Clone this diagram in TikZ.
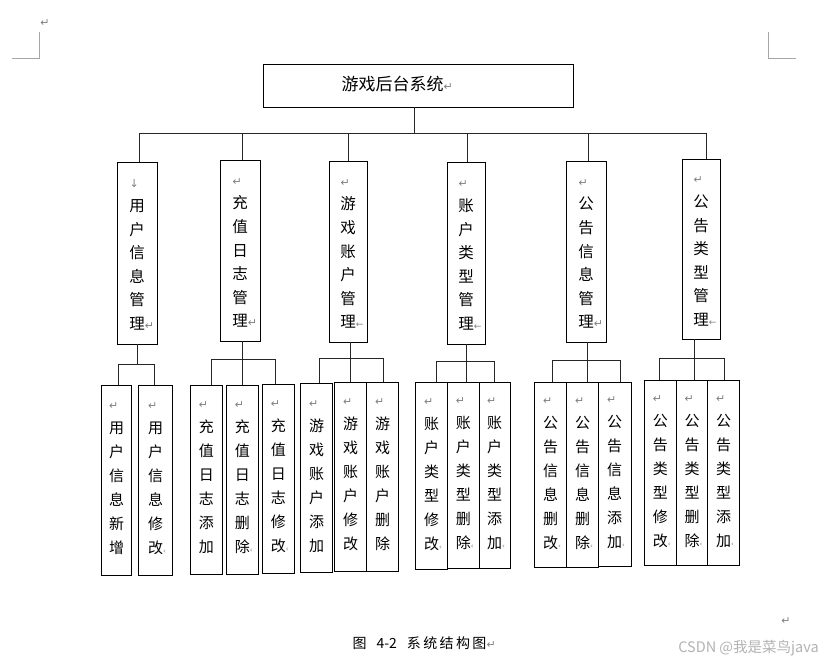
\documentclass[tikz,border=0pt]{standalone}
\usepackage{fontspec}
\setmainfont{Noto Sans CJK SC}
\newfontfamily\dv{DejaVu Sans}
\newcommand\rt{{\dv\color{gray}\fontsize{11}{11}\selectfont ↵}}
\newcommand\ra{\makebox[15pt][l]{\rt}\vphantom{用}}
\newcommand\rar{\makebox[15pt][l]{{\dv\color{gray}\fontsize{11}{11}\selectfont ↓}}\vphantom{用}}
\newcommand\ert{\rlap{\rt}}
\newcommand\ela{\rlap{{\dv\color{gray}\fontsize{9}{9}\selectfont ←}}}
\newcommand\ecl{\rlap{{\dv\color{gray}\fontsize{7}{7}\selectfont ‹}}}
\newcommand\dn{\rule[-9pt]{0pt}{9pt}}
\tikzset{
  box/.style={draw, line width=0.8pt, inner sep=0pt, align=center, font=\fontsize{15.5}{23.6}\selectfont},
  lbox/.style={box, font=\fontsize{15}{24}\selectfont},
  conn/.style={draw, line width=0.8pt, black!85},
  corner/.style={draw, line width=0.6pt, gray!70}
}
% box from corners: [style]{name}{x1}{y1}{x2}{y2}{text}
\newcommand\bx[7][box]{%
  \pgfmathsetmacro\bxw{#5-#3}\pgfmathsetmacro\bxh{#6-#4}%
  \node[#1, minimum width=\bxw pt, minimum height=\bxh pt] (#2) at ({(#3+#5)/2},{(#4+#6)/2}) {#7};}
\begin{document}
\begin{tikzpicture}[x=1pt,y=-1pt]
\useasboundingbox (0,0) rectangle (833,663);
% page corner marks
\draw[corner] (11.7,58) -- (39,58) -- (39,31.7);
\draw[corner] (768.5,31.7) -- (768.5,58) -- (795.7,58);
\node (pm) at (45,23) {\rt};
% top
\bx{top}{263}{64}{573}{107}{}
\node[font=\fontsize{17}{17}\selectfont] (toptxt) at (392.5,84) {游戏后台系统\rlap{\rt}};
% mid boxes
\bx{m1}{117}{162}{157}{344}{\rar\\用\\户\\信\\息\\管\\理\ert}
\bx{m2}{220}{160}{260}{341}{\ra\\充\\值\\日\\志\\管\\理\ert}
\bx{m3}{329}{161}{367}{342}{\ra\\游\\戏\\账\\户\\管\\理\ela}
\bx{m4}{447}{162}{485}{344}{\ra\\账\\户\\类\\型\\管\\理\ela}
\bx{m5}{566}{161}{606}{342}{\ra\\公\\告\\信\\息\\管\\理\ert}
\bx{m6}{682}{159}{720}{339}{\ra\\公\\告\\类\\型\\管\\理\ela}
% top connectors
\coordinate (t0) at (414,133.5);
\coordinate (b1) at (139.5,133.5);
\coordinate (b2) at (242.5,133.5);
\coordinate (b3) at (348.5,133.5);
\coordinate (b4) at (467,133.5);
\coordinate (b5) at (588,133.5);
\coordinate (b6) at (706,133.5);
\draw[conn] (top.south -| t0) -- (t0);
\draw[conn] (b1) -- (b6);
\foreach \i in {1,...,6}{\draw[conn] (b\i) -- (b\i |- m\i.north);}
% lower boxes
\bx[lbox]{l11}{101.7}{385}{131.7}{575.7}{\ra\\用\\户\\信\\息\\新\\增\dn}
\bx[lbox]{l12}{138.7}{385}{172.3}{575.7}{\ra\\用\\户\\信\\息\\修\\改\ecl\dn}
\bx[lbox]{l21}{190.3}{385}{222.3}{574}{\ra\\充\\值\\日\\志\\添\\加\dn}
\bx[lbox]{l22}{226.3}{385}{258.3}{574}{\ra\\充\\值\\日\\志\\删\\除\ecl\dn}
\bx[lbox]{l23}{262.3}{384}{294.3}{573.3}{\ra\\充\\值\\日\\志\\修\\改\ecl\dn}
\bx[lbox]{l31}{300.7}{383.3}{332.7}{572.3}{\ra\\游\\戏\\账\\户\\添\\加\dn}
\bx[lbox]{l32}{334.7}{382.3}{366.7}{571}{\ra\\游\\戏\\账\\户\\修\\改\dn}
\bx[lbox]{l33}{366.7}{382.3}{398.3}{571}{\ra\\游\\戏\\账\\户\\删\\除\dn}
\bx[lbox]{l41}{415.7}{382.3}{447.3}{569.3}{\ra\\账\\户\\类\\型\\修\\改\ecl\dn}
\bx[lbox]{l42}{447.3}{382.3}{479.3}{568.3}{\ra\\账\\户\\类\\型\\删\\除\ecl\dn}
\bx[lbox]{l43}{479.3}{382.3}{510}{568.3}{\ra\\账\\户\\类\\型\\添\\加\ecl\dn}
\bx[lbox]{l51}{534.3}{382.3}{566.7}{567.3}{\ra\\公\\告\\信\\息\\删\\改\ecl\dn}
\bx[lbox]{l52}{566.7}{382.3}{598.3}{567.3}{\ra\\公\\告\\信\\息\\删\\除\ecl\dn}
\bx[lbox]{l53}{598.3}{382.3}{631}{566}{\ra\\公\\告\\信\\息\\添\\加\ecl\dn}
\bx[lbox]{l61}{644.3}{380.7}{676.3}{565}{\ra\\公\\告\\类\\型\\修\\改\ecl\dn}
\bx[lbox]{l62}{676.3}{380.7}{707.7}{565}{\ra\\公\\告\\类\\型\\删\\除\ecl\dn}
\bx[lbox]{l63}{707.7}{380.7}{739.3}{565}{\ra\\公\\告\\类\\型\\添\\加\ecl\dn}
% group 1
\coordinate (s1) at (137.7,364.3);
\coordinate (h1a) at (118.3,364.3);
\coordinate (h1b) at (154.3,364.3);
\draw[conn] (m1.south -| s1) -- (s1);
\draw[conn] (h1a |- l11.north) -- (h1a) -- (h1b) -- (h1b |- l12.north);
% group 2
\coordinate (s2) at (242.7,359);
\coordinate (h2a) at (211,359);
\coordinate (h2b) at (275.7,359);
\draw[conn] (m2.south -| s2) -- (s2 |- l22.north);
\draw[conn] (h2a |- l21.north) -- (h2a) -- (h2b) -- (h2b |- l23.north);
% group 3
\coordinate (s3) at (350.3,358.3);
\coordinate (h3a) at (319.3,358.3);
\coordinate (h3b) at (383,358.3);
\draw[conn] (m3.south -| s3) -- (s3 |- l32.north);
\draw[conn] (h3a |- l31.north) -- (h3a) -- (h3b) -- (h3b |- l33.north);
% group 4
\coordinate (s4) at (466,361);
\coordinate (h4a) at (436.7,361);
\coordinate (h4b) at (494,361);
\draw[conn] (m4.south -| s4) -- (s4 |- l42.north);
\draw[conn] (h4a |- l41.north) -- (h4a) -- (h4b) -- (h4b |- l43.north);
% group 5
\coordinate (s5) at (587.7,360.7);
\coordinate (h5a) at (552.3,360.7);
\coordinate (h5b) at (620,360.7);
\draw[conn] (m5.south -| s5) -- (s5 |- l52.north);
\draw[conn] (h5a |- l51.north) -- (h5a) -- (h5b) -- (h5b |- l53.north);
% group 6
\coordinate (s6) at (694,358.3);
\coordinate (h6a) at (659.3,358.3);
\coordinate (h6b) at (724.7,358.3);
\draw[conn] (m6.south -| s6) -- (s6 |- l62.north);
\draw[conn] (h6a |- l61.north) -- (h6a) -- (h6b) -- (h6b |- l63.north);
% caption
\node[font=\fontsize{14}{14}\selectfont] (cap) at (419.5,643) {图\hspace{10pt}4-2\hspace{10pt}系\kern2.4pt统\kern2.4pt结\kern2.4pt构\kern2.4pt图\rlap{\rt}};
\node (pm2) at (786,621) {\rt};
\node[font=\fontsize{14.5}{14.5}\selectfont, text=gray!60] (wm) at (748.5,648) {CSDN @我是菜鸟java};
\end{tikzpicture}
\end{document}
